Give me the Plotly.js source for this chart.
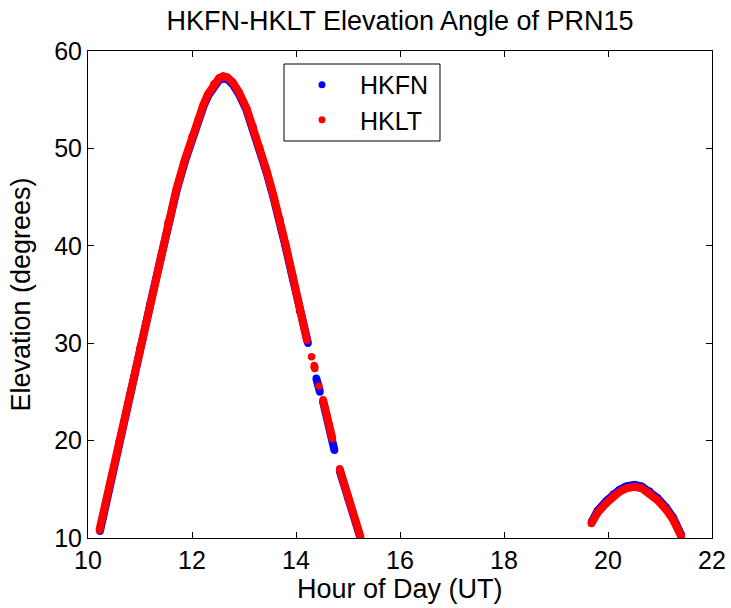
<!DOCTYPE html>
<html>
<head>
<meta charset="utf-8">
<script src="https://cdn.plot.ly/plotly-3.0.1.min.js"></script>
<style>html,body{margin:0;padding:0;background:#fff;}#chart{width:731px;height:608px;}</style>
</head>
<body>
<div id="chart"></div>
<script>
// HKLT (red) — hour of day (UT) and elevation (deg); null separates gaps in the track
const hkltHour = [10.22,10.40,10.60,10.80,11.00,11.20,11.40,11.54,11.70,11.86,12.00,12.12,12.22,12.31,12.42,12.52,12.60,12.68,12.78,12.90,13.05,13.17,13.30,13.43,13.56,13.69,13.80,13.94,14.07,14.21,
  null,14.30,null,14.35,14.36,null,14.44,null,14.52,14.60,14.70,null,14.84,15.00,15.24,
  null,19.68,19.80,19.97,20.10,20.22,20.35,20.51,20.65,20.80,20.95,21.12,21.25,21.41];
const hkltElev = [10.8,15.1,19.9,24.7,29.5,34.2,38.9,42.4,45.8,48.8,51.2,53.0,54.5,55.6,56.6,57.2,57.4,57.3,56.8,55.8,54.1,52.3,50.1,47.8,45.3,42.7,40.1,36.8,33.5,30.3,
  null,28.6,null,27.7,27.4,null,25.6,null,24.2,22.5,20.2,null,17.1,14.3,10.1,
  null,11.5,12.6,13.6,14.3,14.75,15.1,15.25,15.1,14.6,13.9,12.9,11.9,10.15];

// HKFN (blue)
const hkfnHour = [10.23,10.40,10.60,10.80,11.00,11.20,11.40,11.54,11.70,11.86,12.00,12.12,12.22,12.31,12.42,12.52,12.60,12.68,12.78,12.90,13.05,13.17,13.30,13.43,13.56,13.69,13.80,13.94,14.07,14.23,
  null,14.39,14.42,14.46,null,14.52,14.60,14.74,null,14.84,15.00,15.24,
  null,19.68,19.80,19.97,20.10,20.22,20.35,20.51,20.65,20.80,20.95,21.12,21.25,21.41];
const hkfnElev = [10.7,14.95,19.75,24.55,29.35,34.05,38.75,42.2,45.6,48.6,51.0,52.8,54.3,55.4,56.4,57.0,57.2,57.1,56.6,55.6,53.9,52.1,49.9,47.6,45.1,42.5,39.9,36.6,33.3,30.0,
  null,26.4,25.8,25.0,null,24.0,22.3,19.0,null,16.9,14.1,10.0,
  null,11.6,12.8,13.8,14.5,14.95,15.3,15.45,15.3,14.8,14.1,13.1,12.1,10.3];

const seriesNames = ['HKFN','HKLT'];
const seriesColors = ['#0000ff','#ff0000'];

const FONT = 'Liberation Sans, Arial, Helvetica, sans-serif';

const traces = [
  {x: hkfnHour, y: hkfnElev, mode: 'lines+markers', showlegend: false,
   line: {color: seriesColors[0], width: 8}, marker: {color: seriesColors[0], size: 7.5}},
  {x: hkltHour, y: hkltElev, mode: 'lines+markers', showlegend: false,
   line: {color: seriesColors[1], width: 8}, marker: {color: seriesColors[1], size: 7.5}},
  {x: [null], y: [null], mode: 'markers', name: seriesNames[0], legend: 'legend',
   marker: {color: seriesColors[0], size: 7}},
  {x: [null], y: [null], mode: 'markers', name: seriesNames[1], legend: 'legend2',
   marker: {color: seriesColors[1], size: 7}}
];

const axisCommon = {
  showgrid: false, zeroline: false, showline: true, linecolor: '#000', linewidth: 1,
  ticks: 'inside', ticklen: 6, tickcolor: '#000', mirror: 'ticks',
  tickfont: {family: FONT, size: 25, color: '#000'}
};

const legendCommon = {x: 0.3141, xanchor: 'left', yanchor: 'middle', bgcolor: 'rgba(0,0,0,0)',
  borderwidth: 0, font: {family: FONT, size: 25, color: '#000'}, itemwidth: 66};

const layout = {
  width: 731, height: 608,
  margin: {l: 88, r: 19, t: 51, b: 70},
  paper_bgcolor: '#fff', plot_bgcolor: '#fff',
  font: {family: FONT, color: '#000'},
  title: {text: 'HKFN-HKLT Elevation Angle of PRN15', font: {family: FONT, size: 27, color: '#000'},
          x: 0.5, xref: 'paper', y: 0.966, yref: 'container', yanchor: 'middle'},
  xaxis: Object.assign({}, axisCommon, {range: [10, 22], tickvals: [10,12,14,16,18,20,22]}),
  yaxis: Object.assign({}, axisCommon, {range: [10, 60], tickvals: [10,20,30,40,50,60],
          title: {text: 'Elevation (degrees)', font: {family: FONT, size: 27, color: '#000'}, standoff: 15}}),
  annotations: [{text: 'Hour of Day (UT)', xref: 'paper', yref: 'paper', x: 0.5, y: -0.1047,
                 xanchor: 'center', yanchor: 'middle', showarrow: false,
                 font: {family: FONT, size: 27, color: '#000'}}],
  shapes: [{type: 'rect', xref: 'paper', yref: 'paper', x0: 0.3141, x1: 0.5641, y0: 0.8152, y1: 0.9733,
            line: {color: '#000', width: 1}, fillcolor: '#fff', layer: 'below'}],
  legend: Object.assign({}, legendCommon, {y: 0.9302}),
  legend2: Object.assign({}, legendCommon, {y: 0.8583}),
  showlegend: true
};

Plotly.newPlot('chart', traces, layout, {displayModeBar: false, staticPlot: true});
</script>
</body>
</html>
